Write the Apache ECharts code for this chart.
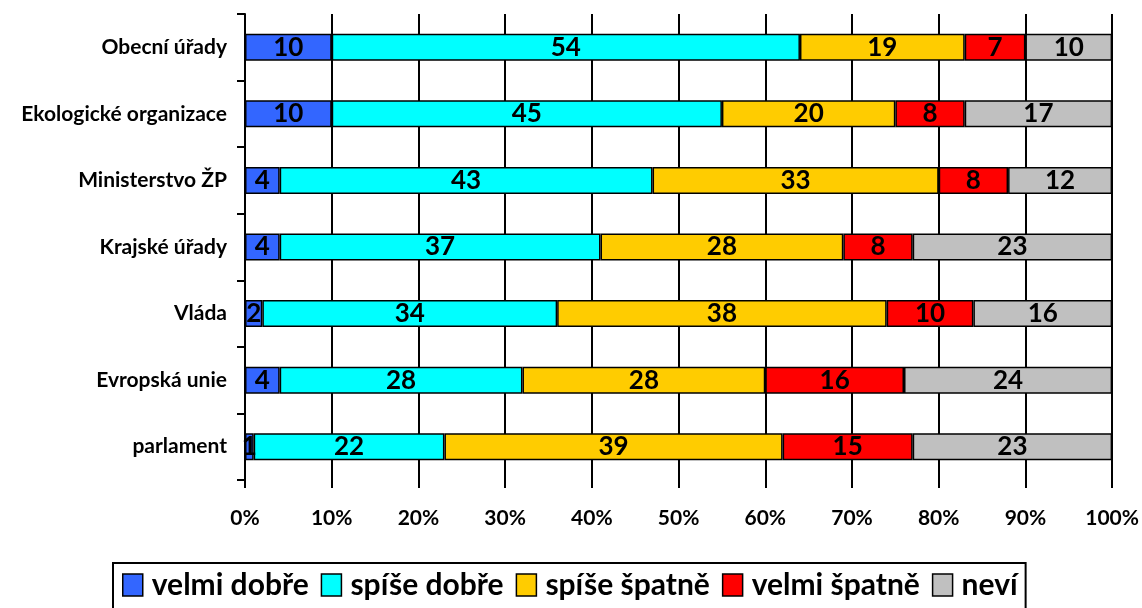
<!DOCTYPE html>
<html>
<head>
<meta charset="utf-8">
<script src="https://cdn.jsdelivr.net/npm/echarts@6/dist/echarts.min.js"></script>
<style>
  html, body { margin: 0; padding: 0; background: #fff; }
  #chart { width: 1142px; height: 608px; }
</style>
</head>
<body>
<div id="chart"></div>
<script>
  // kategorie (shora dolů)
  var categories = ['Obecní úřady', 'Ekologické organizace', 'Ministerstvo ŽP', 'Krajské úřady', 'Vláda', 'Evropská unie', 'parlament'];
  var seriesNames = ['velmi dobře', 'spíše dobře', 'spíše špatně', 'velmi špatně', 'neví'];
  var velmiDobre = [10, 10, 4, 4, 2, 4, 1];
  var spiseDobre = [54, 45, 43, 37, 34, 28, 22];
  var spiseSpatne = [19, 20, 33, 28, 38, 28, 39];
  var velmiSpatne = [7, 8, 8, 8, 10, 16, 15];
  var nevi = [10, 17, 12, 23, 16, 24, 23];
  var colors = ['#3366FF', '#00FFFF', '#FFCC00', '#FF0000', '#C0C0C0'];

  var font = 'Lato, sans-serif';
  var allData = [velmiDobre, spiseDobre, spiseSpatne, velmiSpatne, nevi];

  var series = [];
  for (var i = 0; i < seriesNames.length; i++) {
    series.push({
      name: seriesNames[i],
      type: 'bar',
      stack: 'total',
      barWidth: 27,
      data: allData[i],
      itemStyle: { color: colors[i], borderColor: '#000', borderWidth: 1.5 },
      label: {
        show: true,
        position: 'inside',
        color: '#000',
        fontFamily: font,
        fontWeight: 'bold',
        fontSize: 26
      }
    });
  }

  var myChart = echarts.init(document.getElementById('chart'));
  var option = {
    animation: false,
    backgroundColor: '#fff',
    grid: { left: 245, right: 29, top: 14, bottom: 128 },
    legend: {
      data: seriesNames,
      left: 113,
      top: 563,
      padding: [7, 8, 20, 9],
      borderColor: '#000',
      borderWidth: 2,
      icon: 'rect',
      itemWidth: 20,
      itemHeight: 22,
      itemGap: 12,
      itemStyle: { borderColor: '#000', borderWidth: 1.5 },
      textStyle: { color: '#000', fontFamily: font, fontWeight: 'bold', fontSize: 30, padding: [0, 0, 0, 4] }
    },
    xAxis: {
      type: 'value',
      min: 0,
      max: 100,
      interval: 10,
      axisLine: { show: false },
      axisTick: { show: true, length: 8, lineStyle: { color: '#000', width: 2 } },
      splitLine: { show: true, lineStyle: { color: '#000', width: 2 } },
      axisLabel: {
        formatter: '{value}%',
        margin: 28,
        color: '#000',
        fontFamily: font,
        fontWeight: 'bold',
        fontSize: 21
      }
    },
    yAxis: {
      type: 'category',
      inverse: true,
      data: categories,
      axisLine: { show: true, lineStyle: { color: '#000', width: 2 } },
      axisTick: { show: true, length: 8, lineStyle: { color: '#000', width: 2 } },
      axisLabel: {
        margin: 18,
        color: '#000',
        fontFamily: font,
        fontWeight: 'bold',
        fontSize: 21
      }
    },
    series: series
  };
  myChart.setOption(option);
</script>
</body>
</html>
